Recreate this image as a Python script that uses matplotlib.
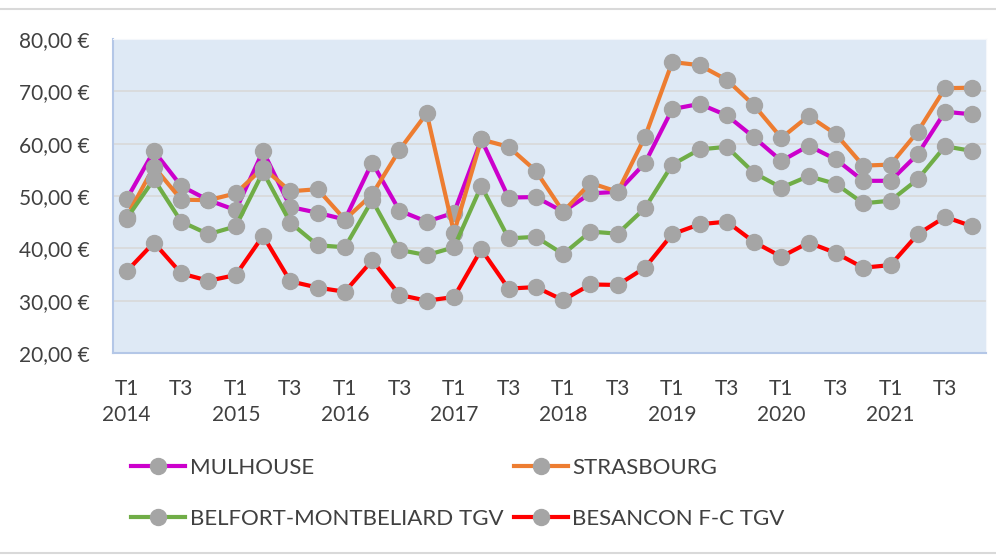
import numpy as np
import matplotlib
matplotlib.use('Agg')
import matplotlib.pyplot as plt
from matplotlib.lines import Line2D

plt.rcParams['font.family'] = ['Lato', 'DejaVu Sans']

# quarters 2014 T1 .. 2021 T4
years = [2014, 2015, 2016, 2017, 2018, 2019, 2020, 2021]
quarters = ['T1', 'T2', 'T3', 'T4']

mulhouse = [49.4, 58.6, 51.9, 49.2, 47.3, 58.6, 47.9, 46.8,
            45.5, 56.4, 47.2, 45.1, 46.8, 60.8, 49.7, 49.8,
            47.0, 50.5, 50.8, 56.3, 66.6, 67.6, 65.4, 61.2,
            56.7, 59.6, 57.0, 52.9, 52.9, 58.0, 66.1, 65.6]
strasbourg = [46.0, 55.6, 49.3, 49.2, 50.5, 55.4, 50.9, 51.3,
              45.5, 50.3, 58.8, 65.8, 43.0, 60.8, 59.4, 54.8,
              47.0, 52.5, 50.8, 61.3, 75.6, 75.0, 72.2, 67.3,
              61.1, 65.3, 61.8, 55.8, 56.0, 62.3, 70.6, 70.7]
belfort = [45.7, 53.2, 45.1, 42.7, 44.2, 54.6, 44.9, 40.6,
           40.2, 49.2, 39.7, 38.7, 40.2, 51.9, 41.9, 42.2,
           38.9, 43.2, 42.8, 47.7, 56.0, 58.9, 59.4, 54.4,
           51.6, 53.8, 52.3, 48.6, 49.1, 53.2, 59.5, 58.6]
besancon = [35.6, 41.1, 35.2, 33.8, 34.9, 42.4, 33.7, 32.5,
            31.7, 37.7, 31.1, 30.0, 30.7, 39.8, 32.3, 32.6,
            30.1, 33.1, 33.0, 36.3, 42.7, 44.6, 45.1, 41.2,
            38.4, 41.1, 39.1, 36.3, 36.8, 42.7, 46.0, 44.2]

series = [
    ('MULHOUSE', mulhouse, '#CC00CC'),
    ('STRASBOURG', strasbourg, '#ED7D31'),
    ('BELFORT-MONTBELIARD TGV', belfort, '#70AD47'),
    ('BESANCON F-C TGV', besancon, '#FF0000'),
]

text_col = '#404040'
fs = 15

fig = plt.figure(figsize=(9.96, 5.57), dpi=100)
ax = fig.add_axes([113 / 996, 1 - 353 / 557, (986 - 113) / 996, (353 - 39) / 557])
ax.set_facecolor('#DEE9F5')

x = np.arange(len(mulhouse))
handles = {}
for name, vals, col in series:
    h, = ax.plot(x, vals, color=col, lw=3, marker='o', ms=11.5,
                 mfc='#A5A5A5', mec='#A5A5A5', label=name, zorder=3)
    handles[name] = h

ax.set_xlim(-0.5, len(x) - 0.5)
ax.set_ylim(20, 80)
ax.set_yticks(np.arange(20, 81, 10))
ax.set_yticklabels(['%d,00 €' % v for v in range(20, 81, 10)])
ax.grid(axis='y', color='#D9D9D9', lw=1.2, zorder=0)
ax.set_axisbelow(True)

xt = list(range(0, len(x), 2))
xl = []
for i in xt:
    q = quarters[i % 4]
    if q == 'T1':
        xl.append('T1\n%d' % years[i // 4])
    else:
        xl.append(q)
ax.set_xticks(xt)
ax.set_xticklabels(xl, linespacing=1.35, va='top')
ax.tick_params(axis='both', length=0, labelsize=fs, labelcolor=text_col)
ax.tick_params(axis='y', pad=17)
ax.tick_params(axis='x', pad=19)

ax.spines['left'].set_color('#B4C7E7')
ax.spines['bottom'].set_color('#B4C7E7')
ax.spines['left'].set_linewidth(1.5)
ax.spines['bottom'].set_linewidth(1.5)
ax.spines['top'].set_color('#F4F7FB')
ax.spines['right'].set_color('#F4F7FB')

order = ['MULHOUSE', 'BELFORT-MONTBELIARD TGV', 'STRASBOURG', 'BESANCON F-C TGV']
leg = fig.legend([handles[n] for n in order], order, ncol=2, frameon=False,
                 loc='upper left', bbox_to_anchor=(131 / 996, 1 - 458 / 557),
                 fontsize=16, labelcolor=text_col, handlelength=2.45,
                 handletextpad=0.2, labelspacing=1.4, columnspacing=0.45,
                 borderaxespad=0, borderpad=0)

# outer frame lines
fig.add_artist(Line2D([0, 1], [1 - 9 / 557, 1 - 9 / 557], color='#D9D9D9', lw=1.5))
fig.add_artist(Line2D([0, 1], [1 - 553 / 557, 1 - 553 / 557], color='#D9D9D9', lw=1.5))

fig.savefig('out.png', dpi=100)
